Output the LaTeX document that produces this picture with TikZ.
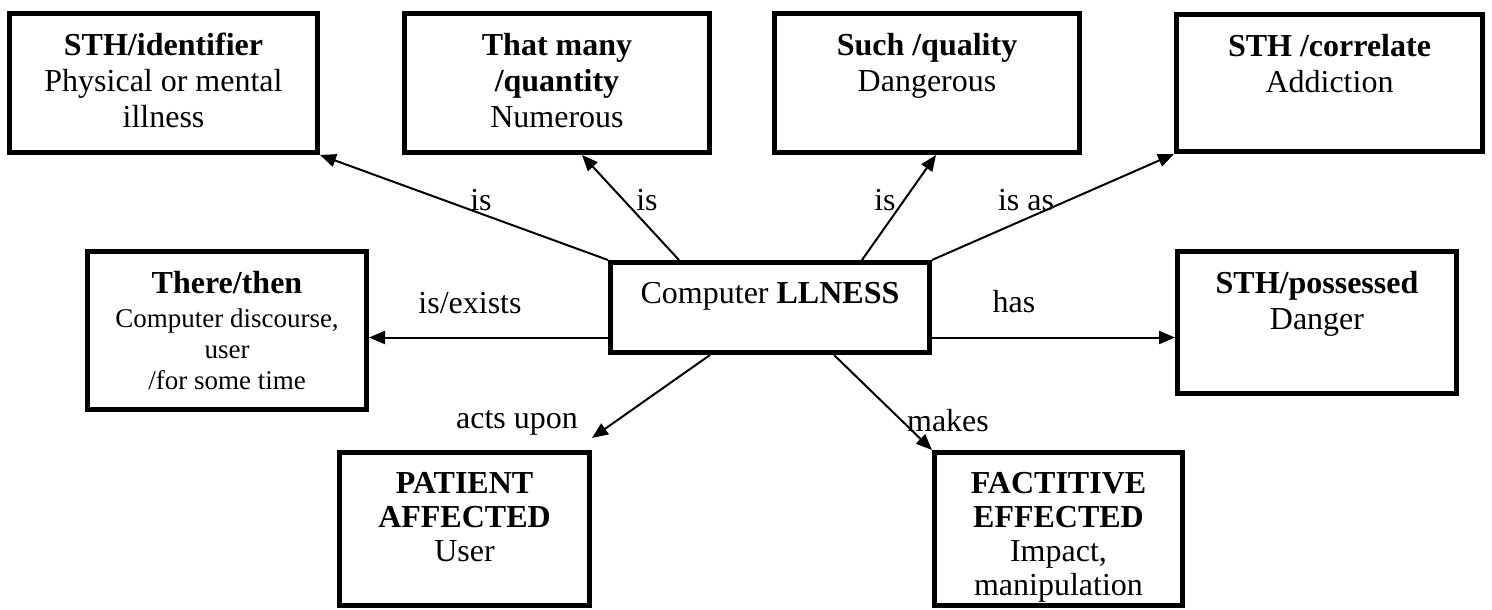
\documentclass[tikz,border=0pt]{standalone}
\usepackage{fontspec}
\setmainfont{Liberation Serif}
\usetikzlibrary{arrows.meta,calc}
\begin{document}
\begin{tikzpicture}[x=1pt,y=-1pt,
  box/.style={draw, line width=5pt, rectangle, inner sep=0pt, anchor=north west},
  txt/.style={align=center, inner sep=0pt, anchor=north, font=\fontsize{32}{36}\selectfont},
  txtb/.style={align=center, inner sep=0pt, anchor=north, font=\fontsize{32}{34}\selectfont},
  small/.style={align=center, inner sep=0pt, anchor=north, font=\fontsize{27}{31}\selectfont},
  lbl/.style={inner sep=0pt, font=\fontsize{32}{36}\selectfont},
  arr/.style={line width=2pt, -{Triangle[length=16pt,width=13pt]}}]
\useasboundingbox (0,0) rectangle (1492,610);
% boxes
\node[box, minimum width=308pt, minimum height=139pt] (b1) at (7,11) {};
\node[box, minimum width=305pt, minimum height=139pt] (b2) at (402,11) {};
\node[box, minimum width=305pt, minimum height=139pt] (b3) at (772,11) {};
\node[box, minimum width=306pt, minimum height=137pt] (b4) at (1174,12) {};
\node[box, minimum width=279pt, minimum height=158pt] (b5) at (85,249) {};
\node[box, minimum width=319pt, minimum height=90pt] (cb) at (608,260) {};
\node[box, minimum width=279pt, minimum height=142pt] (b7) at (1175,249) {};
\node[box, minimum width=250pt, minimum height=153pt] (b8) at (337,450) {};
\node[box, minimum width=248pt, minimum height=153pt] (b9) at (932,450) {};
% texts
\node[txt] (t1) at ([yshift=-22pt]b1.north) {\textbf{STH/identifier}\\Physical or mental\\illness};
\node[txt] (t2) at ([yshift=-22pt]b2.north) {\textbf{That many}\\\textbf{/quantity}\\Numerous};
\node[txt] (t3) at ([yshift=-22pt]b3.north) {\textbf{Such /quality}\\Dangerous};
\node[txt] (t4) at ([yshift=-22pt]b4.north) {\textbf{STH /correlate}\\Addiction};
\node[small] (t5) at ([yshift=-22pt]b5.north) {{\fontsize{32}{36}\selectfont\bfseries There/then}\\[3pt]Computer discourse,\\user\\/for some time};
\node[txt] (ct) at ([yshift=-22pt]cb.north) {Computer \textbf{LLNESS}};
\node[txt] (t7) at ([yshift=-22pt]b7.north) {\textbf{STH/possessed}\\Danger};
\node[txtb] (t8) at ([yshift=-22pt]b8.north) {\textbf{PATIENT}\\\textbf{AFFECTED}\\User};
\node[txtb] (t9) at ([yshift=-22pt]b9.north) {\textbf{FACTITIVE}\\\textbf{EFFECTED}\\Impact,\\manipulation};
% connectors
\draw[arr] (cb.north west) -- (b1.south east);
\draw[arr] ([xshift=71pt]cb.north west) -- ([xshift=180pt]b2.south west);
\draw[arr] ([xshift=254pt]cb.north west) -- ([xshift=164pt]b3.south west);
\draw[arr] (cb.north east) -- (b4.south west);
\coordinate (cl) at ([yshift=-30pt]cb.west);
\coordinate (cr) at ([yshift=-30pt]cb.east);
\draw[arr] (cl) -- (cl -| b5.east);
\draw[arr] (cr) -- (cr -| b7.west);
\draw[arr] ([xshift=102pt]cb.south west) -- ([yshift=12pt]b8.north east);
\draw[arr] ([xshift=226pt]cb.south west) -- (b9.north west);
% labels
\node[lbl] (l1) at (481,200) {is};
\node[lbl] (l2) at (647,200) {is};
\node[lbl] (l3) at (885,200) {is};
\node[lbl] (l4) at (1026,200) {is as};
\node[lbl] (l5) at (470,303) {is/exists};
\node[lbl] (l6) at (1014,302) {has};
\node[lbl] (l7) at (517,423) {acts upon};
\node[lbl] (l8) at (948,421) {makes};
\end{tikzpicture}
\end{document}
